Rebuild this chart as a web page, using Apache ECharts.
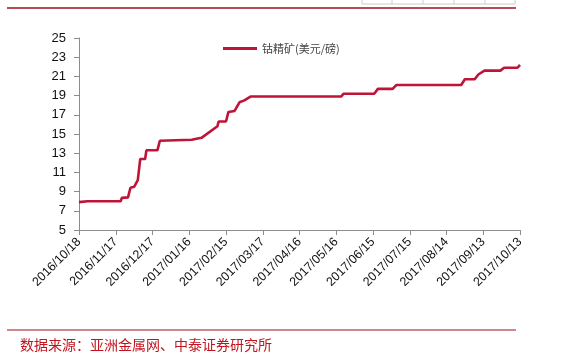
<!DOCTYPE html>
<html>
<head>
<meta charset="utf-8">
<script src="https://cdn.jsdelivr.net/npm/echarts@6/dist/echarts.min.js"></script>
<style>html,body{margin:0;padding:0;background:#fff;}#c{width:561px;height:357px;}</style>
</head>
<body>
<div id="c"></div>
<script>
const seriesName = '钴精矿(美元/磅)';
const startDate = '2016/10/18';
const endDate = '2017/10/13';
const tickDays = 30;
const dates = ['2016/10/18','2016/10/25','2016/11/21','2016/11/22','2016/11/27','2016/11/29','2016/12/02','2016/12/05','2016/12/07','2016/12/11','2016/12/12','2016/12/21','2016/12/23','2017/01/18','2017/01/19','2017/01/26','2017/02/08','2017/02/09','2017/02/15','2017/02/17','2017/02/22','2017/02/26','2017/03/02','2017/03/07','2017/05/20','2017/05/22','2017/06/16','2017/06/19','2017/07/01','2017/07/04','2017/08/26','2017/08/29','2017/09/06','2017/09/09','2017/09/14','2017/09/27','2017/09/30','2017/10/11','2017/10/13'];
const values = [7.9,8.0,8.0,8.35,8.4,9.4,9.5,10.2,12.4,12.4,13.3,13.3,14.3,14.4,14.6,14.6,15.8,16.3,16.3,17.3,17.4,18.3,18.5,18.9,18.9,19.2,19.2,19.7,19.7,20.1,20.1,20.7,20.7,21.2,21.6,21.6,21.9,21.9,22.2];
const sourceText = '数据来源：亚洲金属网、中泰证券研究所';

function toUTC(s){const p=s.split('/').map(Number);return Date.UTC(p[0],p[1]-1,p[2]);}
const base = toUTC(startDate);
const DAY = 86400000;
const totalDays = Math.round((toUTC(endDate)-base)/DAY);
function fmt(d){const t=new Date(base+d*DAY);const m=t.getUTCMonth()+1, dd=t.getUTCDate();return t.getUTCFullYear()+'/'+(m<10?'0':'')+m+'/'+(dd<10?'0':'')+dd;}
const data = dates.map((d,i)=>[Math.round((toUTC(d)-base)/DAY), values[i]]);

const chart = echarts.init(document.getElementById('c'));
chart.setOption({
  animation:false,
  backgroundColor:'#fff',
  grid:{left:79,right:41,top:38,bottom:127},
  legend:{
    data:[seriesName], top:38, left:218, itemWidth:34, itemHeight:3, itemGap:4,
    icon:'rect',
    textStyle:{fontSize:11,color:'#444',fontFamily:'"Noto Sans CJK SC", sans-serif'}
  },
  xAxis:{
    type:'value', min:0, max:totalDays, interval:tickDays,
    axisLine:{lineStyle:{color:'#8c8c8c',width:1}},
    axisTick:{show:true,inside:false,length:5,lineStyle:{color:'#8c8c8c'}},
    splitLine:{show:false},
    axisLabel:{rotate:45,fontSize:12.5,color:'#111',fontFamily:'"Liberation Sans", Arial, sans-serif',margin:10,formatter:v=>fmt(v)}
  },
  yAxis:{
    type:'value', min:5, max:25, interval:2,
    axisLine:{show:true,lineStyle:{color:'#8c8c8c',width:1}},
    axisTick:{show:true,inside:false,length:5,lineStyle:{color:'#8c8c8c'}},
    splitLine:{show:false},
    axisLabel:{fontSize:13,color:'#111',fontFamily:'"Liberation Sans", Arial, sans-serif',margin:13}
  },
  series:[{
    name:seriesName, type:'line', data:data, showSymbol:false, symbol:'none',
    lineStyle:{color:'#BE1438',width:2.6}, itemStyle:{color:'#BE1438'}
  }],
  graphic:[
    {type:'line',shape:{x1:7,y1:8,x2:516,y2:8},style:{stroke:'#A0101E',lineWidth:1.6}},
    {type:'line',shape:{x1:362,y1:0,x2:362,y2:4},style:{stroke:'#ccc',lineWidth:1}},
    {type:'line',shape:{x1:392,y1:0,x2:392,y2:4},style:{stroke:'#ccc',lineWidth:1}},
    {type:'line',shape:{x1:423,y1:0,x2:423,y2:4},style:{stroke:'#ccc',lineWidth:1}},
    {type:'line',shape:{x1:454,y1:0,x2:454,y2:4},style:{stroke:'#ccc',lineWidth:1}},
    {type:'line',shape:{x1:485,y1:0,x2:485,y2:4},style:{stroke:'#ccc',lineWidth:1}},
    {type:'line',shape:{x1:515,y1:0,x2:515,y2:4},style:{stroke:'#ccc',lineWidth:1}},
    {type:'line',shape:{x1:362,y1:4,x2:515,y2:4},style:{stroke:'#ccc',lineWidth:1}},
    {type:'line',shape:{x1:7,y1:330,x2:516,y2:330},style:{stroke:'#A0101E',lineWidth:1.2}},
    {type:'text',left:20,top:338,style:{text:sourceText,fill:'#C0141E',fontSize:14,fontFamily:'"Noto Sans CJK SC", sans-serif'}}
  ]
});
</script>
</body>
</html>
